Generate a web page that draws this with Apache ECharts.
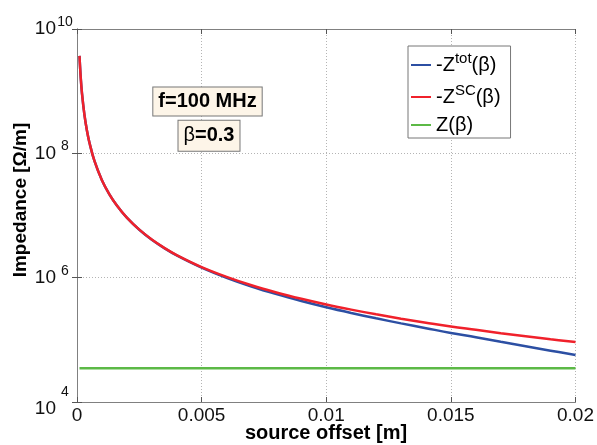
<!DOCTYPE html>
<html>
<head>
<meta charset="utf-8">
<script src="https://cdn.jsdelivr.net/npm/echarts@6/dist/echarts.min.js"></script>
<style>
html, body { margin: 0; padding: 0; background: #fff; }
#impedanceChartContainer { width: 597px; height: 445px; }
</style>
</head>
<body>
<div id="impedanceChartContainer"></div>
<script>
// source offset [m]
var offsetData = [0.0001, 0.00015, 0.0002, 0.0003, 0.0004, 0.0005, 0.0007, 0.001, 0.0013, 0.0016,
	0.002, 0.0025, 0.003, 0.0035, 0.004, 0.005, 0.006, 0.007, 0.008, 0.009,
	0.01, 0.011, 0.012, 0.013, 0.014, 0.015, 0.016, 0.017, 0.018, 0.019, 0.02];
// -Z^tot(beta) [Ohm/m]
var zTotData = [3.7e9, 1.64e9, 9.25e8, 4.11e8, 2.31e8, 1.48e8, 7.55e7, 3.7e7, 2.19e7, 1.45e7,
	9.21e6, 5.89e6, 4.07e6, 2.99e6, 2.28e6, 1.45e6, 9.95e5, 7.2e5, 5.43e5, 4.22e5,
	3.35e5, 2.71e5, 2.22e5, 1.84e5, 1.54e5, 1.29e5, 1.10e5, 9.3e4, 7.9e4, 6.7e4, 5.7e4];
// -Z^SC(beta) [Ohm/m]
var zScData = [3.7e9, 1.64e9, 9.25e8, 4.11e8, 2.31e8, 1.48e8, 7.55e7, 3.7e7, 2.19e7, 1.45e7,
	9.25e6, 5.92e6, 4.11e6, 3.02e6, 2.31e6, 1.48e6, 1.03e6, 7.55e5, 5.78e5, 4.57e5,
	3.7e5, 3.06e5, 2.57e5, 2.19e5, 1.89e5, 1.64e5, 1.45e5, 1.28e5, 1.14e5, 1.02e5, 9.2e4];
// Z(beta) [Ohm/m]
var zBetaOffset = [0.0001, 0.02];
var zBetaData = [3.5e4, 3.5e4];

var seriesNames = ['-Ztot', '-ZSC', 'Z'];

var FONT = "'Liberation Sans', Arial, sans-serif";

var impedanceChart = {
	containerId: "impedanceChartContainer",
	/**
	 * x/y pairs
	 */
	pairs: function(xs, ys) {
		var ret = [];
		for (var i = 0; i < xs.length; i++) {
			ret.push([xs[i], ys[i]]);
		}
		return ret;
	},
	legendLabel: function(name) {
		if (name == '-Ztot') return '{t|-Z}{s|tot}{t|(β)}';
		if (name == '-ZSC') return '{t|-Z}{s|SC}{t|(β)}';
		return '{t|Z(β)}';
	},
	xAxisCfg: function(pos, showLabel) {
		return {
			type: 'value', position: pos, min: 0, max: 0.02, interval: 0.005,
			axisLine: { show: true, onZero: false, lineStyle: { color: '#808080', width: 1 } },
			axisTick: { show: true, inside: true, length: 5, lineStyle: { color: '#555' } },
			axisLabel: {
				show: showLabel, fontSize: 19, color: '#111', margin: 4, fontFamily: FONT,
				formatter: function(v) { return String(parseFloat(v.toFixed(3))); }
			},
			splitLine: { show: showLabel, lineStyle: { color: '#b4b4b4', type: [1, 2], width: 1 } }
		};
	},
	yAxisCfg: function(pos, showLabel) {
		return {
			type: 'log', logBase: 10, position: pos, min: 1e4, max: 1e10, interval: 2,
			axisLine: { show: true, lineStyle: { color: '#808080', width: 1 } },
			axisTick: { show: true, inside: true, length: 5, lineStyle: { color: '#555' } },
			minorTick: { show: false },
			axisLabel: {
				show: showLabel, margin: 3, fontFamily: FONT, color: '#111',
				formatter: function(v) {
					var power = Math.round(Math.log(v) / Math.LN10);
					// bottom label sits a little lower, like the original
					if (power == 4) return '{baseLow|10}{powerLow|' + power + '}';
					return '{base|10}{power|' + power + '}';
				},
				rich: {
					base: { fontSize: 19, lineHeight: 28, fontFamily: FONT, color: '#111' },
					power: { fontSize: 14, lineHeight: 6, verticalAlign: 'top', width: 18, align: 'left', fontFamily: FONT, color: '#111' },
					baseLow: { fontSize: 19, lineHeight: 28, padding: [14, 0, 0, 0], fontFamily: FONT, color: '#111' },
					powerLow: { fontSize: 14, lineHeight: 33, verticalAlign: 'top', width: 18, align: 'left', fontFamily: FONT, color: '#111' }
				}
			},
			splitLine: { show: showLabel, lineStyle: { color: '#b4b4b4', type: [1, 2], width: 1 } }
		};
	},
	showChart: function() {
		var myChart = echarts.init(document.getElementById(impedanceChart.containerId));
		var option = {
			animation: false,
			backgroundColor: '#fff',
			grid: { left: 77, right: 20, top: 29, bottom: 43 },
			legend: {
				data: seriesNames,
				orient: 'vertical',
				left: 408, top: 46,
				padding: [5, 10, 3, 3],
				itemGap: 8,
				itemWidth: 20, itemHeight: 2,
				icon: 'rect',
				backgroundColor: '#fff',
				borderColor: '#777', borderWidth: 1, borderRadius: 0,
				formatter: impedanceChart.legendLabel,
				textStyle: {
					fontFamily: FONT, color: '#000',
					rich: {
						t: { fontSize: 20, lineHeight: 28, fontFamily: FONT, color: '#000' },
						s: { fontSize: 15, lineHeight: 6, verticalAlign: 'top', fontFamily: FONT, color: '#000' }
					}
				}
			},
			xAxis: [impedanceChart.xAxisCfg('bottom', true), impedanceChart.xAxisCfg('top', false)],
			yAxis: [impedanceChart.yAxisCfg('left', true), impedanceChart.yAxisCfg('right', false)],
			graphic: [
				{
					type: 'text', x: 207.5, y: 101.5, z: 100,
					style: {
						text: 'f=100 MHz', font: 'bold 20px ' + FONT, fill: '#000',
						align: 'center', verticalAlign: 'middle',
						backgroundColor: '#fdf5e8', borderColor: '#777', borderWidth: 1,
						padding: [3, 5, 3, 5], lineHeight: 22
					}
				},
				{
					type: 'text', x: 209, y: 135.7, z: 100,
					style: {
						text: '{g|β}{b|=0.3}',
						rich: {
							g: { font: '20px ' + FONT, fill: '#000', lineHeight: 22 },
							b: { font: 'bold 20px ' + FONT, fill: '#000', lineHeight: 22 }
						},
						align: 'center', verticalAlign: 'middle',
						backgroundColor: '#fdf5e8', borderColor: '#777', borderWidth: 1,
						padding: [4, 5, 4, 5]
					}
				},
				{
					type: 'text', x: 21, y: 200, rotation: Math.PI / 2,
					style: {
						text: 'Impedance [Ω/m]', font: 'bold 19px ' + FONT, fill: '#000',
						align: 'center', verticalAlign: 'middle'
					}
				},
				{
					type: 'text', x: 326, y: 423,
					style: {
						text: 'source offset [m]', font: 'bold 20px ' + FONT, fill: '#000',
						align: 'center', verticalAlign: 'top'
					}
				}
			],
			series: [
				{
					name: '-Ztot', type: 'line', showSymbol: false, smooth: 0.4,
					color: '#2c4fa3', lineStyle: { width: 2.5, color: '#2c4fa3' },
					data: impedanceChart.pairs(offsetData, zTotData)
				},
				{
					name: '-ZSC', type: 'line', showSymbol: false, smooth: 0.4,
					color: '#f0212b', lineStyle: { width: 2.5, color: '#f0212b' },
					data: impedanceChart.pairs(offsetData, zScData)
				},
				{
					name: 'Z', type: 'line', showSymbol: false,
					color: '#5cb946', lineStyle: { width: 2.5, color: '#5cb946' },
					data: impedanceChart.pairs(zBetaOffset, zBetaData)
				}
			]
		};
		// 显示图表
		myChart.setOption(option);
	}
};

impedanceChart.showChart();
</script>
</body>
</html>
